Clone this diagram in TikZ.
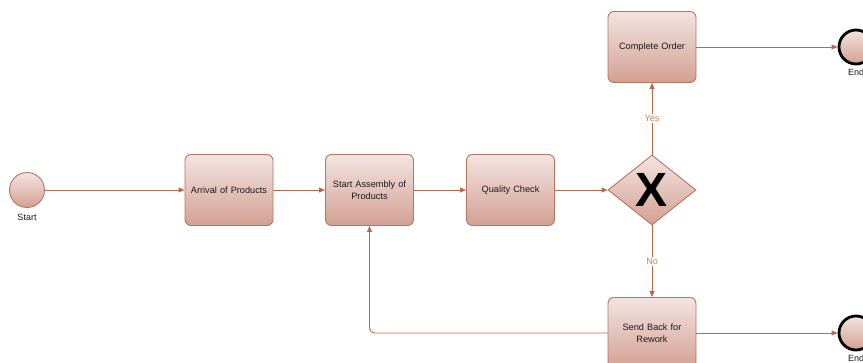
\documentclass[tikz,border=0pt]{standalone}
\usepackage{fontspec}
\setmainfont{Liberation Sans}
\usetikzlibrary{shapes.geometric,arrows.meta,shadings}
\definecolor{boxtop}{HTML}{F3E4E1}
\definecolor{boxbot}{HTML}{D3A092}
\definecolor{boxline}{HTML}{B77460}
\definecolor{flowline}{HTML}{B5694F}
\definecolor{condtext}{HTML}{C8854F}
\definecolor{txt}{HTML}{1A1A1A}
\begin{document}
\begin{tikzpicture}[x=1pt,y=-1pt,
  task/.style={draw=boxline, line width=0.9pt, rounded corners=6pt,
    top color=boxtop, bottom color=boxbot, minimum width=88pt,
    minimum height=71pt, text width=84pt, inner sep=0pt, align=center,
    text=txt, font=\fontsize{9.2}{12}\selectfont},
  gate/.style={diamond, draw=boxline, line width=0.9pt, top color=boxtop,
    bottom color=boxbot, minimum width=88pt, minimum height=70pt, inner sep=0pt},
  startev/.style={circle, draw=boxline, line width=0.9pt, top color=boxtop,
    bottom color=boxbot, minimum size=35pt, inner sep=0pt},
  endev/.style={circle, draw=black, line width=2.8pt, top color=boxtop,
    bottom color=boxbot, minimum size=34pt, inner sep=0pt},
  evlabel/.style={text=txt, font=\fontsize{9}{11}\selectfont, inner sep=1pt},
  flow/.style={draw=flowline, line width=0.9pt,
    -{Triangle[length=6pt,width=5pt]}},
  cond/.style={fill=white, text=condtext, inner sep=1.5pt,
    font=\fontsize{9}{11}\selectfont}]
\useasboundingbox (0,0) rectangle (863,363);

% events
\node[startev, label={[evlabel, label distance=5pt]below:Start}] (s) at (27,190) {};
\node[endev, label={[evlabel, label distance=2pt]below:End}] (e1) at (856,47) {};
\node[endev, label={[evlabel, label distance=2pt]below:End}] (e2) at (856,333) {};

% tasks
\node[task] (arr) at (229,190) {Arrival of Products};
\node[task] (asm) at (369.5,190) {Start Assembly of\\Products};
\node[task] (qc) at (510.5,190) {Quality Check};
\node[task] (done) at (652,47) {Complete Order};
\node[task] (rework) at (652,333) {Send Back for\\Rework};

% exclusive gateway
\node[gate] (gw) at (652,190) {};
\node[text=black, font=\fontsize{48}{48}\bfseries\selectfont, inner sep=0pt]
  (gwx) at (gw.center) {X};

% sequence flows
\draw[flow] (s) -- (arr);
\draw[flow] (arr) -- (asm);
\draw[flow] (asm) -- (qc);
\draw[flow] (qc) -- (gw);
\draw[flow] (gw) -- node[cond] {Yes} (done);
\draw[flow] (gw) -- node[cond] {No} (rework);
\draw[flow] (done) -- (e1);
\draw[flow] (rework) -- (e2);
\draw[flow, rounded corners=5pt] (rework.west) -| (asm.south);
\end{tikzpicture}
\end{document}
